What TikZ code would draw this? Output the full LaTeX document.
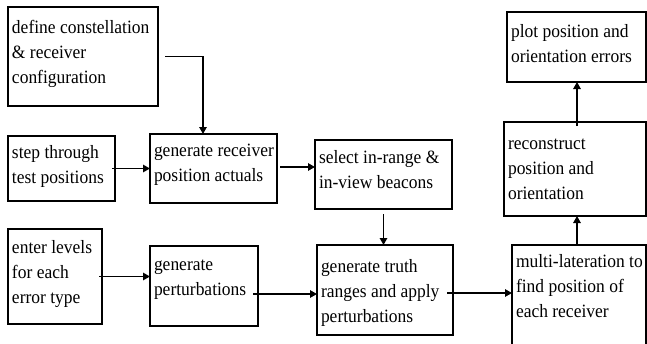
\documentclass[tikz,border=0pt]{standalone}
\usepackage{fontspec}
\setmainfont{Liberation Serif}[FakeStretch=0.93]
\usetikzlibrary{arrows.meta}
\tikzset{
  boxst/.style={draw, line width=1.8pt, anchor=north west, inner sep=0pt, outer sep=0pt},
  conn/.style={line width=1.35pt, -{Triangle[length=7pt,width=7.5pt]}},
}
% name, x, y, width, height, first baseline, text
\newcommand{\mkbox}[7]{%
  \node[boxst] (#1) at (#2,#3) {\parbox[c][#5pt][t]{#4pt}{\leftskip=4pt\rule{0pt}{#6pt}#7\par}};}
\begin{document}
\begin{tikzpicture}[x=1pt,y=-1pt,font=\rmfamily\fontsize{18.8}{25}\selectfont]
\useasboundingbox (0,0) rectangle (647,343);
\clip (0,0) rectangle (647,343);
\mkbox{b1}{8}{7}{150}{99}{26}{\mbox{define constellation}\\\mbox{\& receiver}\\\mbox{configuration}}
\mkbox{b2}{8}{136}{107}{65}{22}{\mbox{step through}\\\mbox{test positions}}
\mkbox{b3}{150}{134}{127}{69}{22}{\mbox{generate receiver}\\\mbox{position actuals}}
\mkbox{b4}{315}{140}{137}{69}{23}{\mbox{select in-range \&}\\\mbox{in-view beacons}}
\mkbox{b5}{8}{229}{94}{95}{24}{\mbox{enter levels}\\\mbox{for each}\\\mbox{error type}}
\mkbox{b6}{150}{246}{108}{80}{24}{\mbox{generate}\\\mbox{perturbations}}
\mkbox{b7}{317}{245}{136}{90}{27}{\mbox{generate truth}\\\mbox{ranges and apply}\\\mbox{perturbations}}
\mkbox{b8}{512}{245}{134}{110}{22}{\mbox{multi-lateration to}\\\mbox{find position of}\\\mbox{each receiver}}
\mkbox{b9}{504}{122}{142}{94}{27}{\mbox{reconstruct}\\\mbox{position and}\\\mbox{orientation}}
\mkbox{b10}{507}{12}{139}{70}{25}{\mbox{plot position and}\\\mbox{orientation errors}}

\coordinate (p1) at ([xshift=7pt]b1.east);
\coordinate (q1) at ([xshift=-10.5pt]b3.north);
\draw[conn] (p1) -| (q1);
\coordinate (p2) at ([xshift=-3pt]b2.east);
\draw[conn] (p2) -- (p2 -| b3.west);
\coordinate (p3) at ([xshift=3pt,yshift=1.5pt]b3.east);
\draw[conn] (p3) -- (p3 -| b4.west);
\coordinate (p4) at ([yshift=-5pt]b4.south);
\draw[conn] (p4) -- (p4 |- b7.north);
\coordinate (p5) at ([xshift=-3pt]b5.east);
\draw[conn] (p5) -- (p5 -| b6.west);
\coordinate (p6) at ([xshift=-5pt,yshift=-8pt]b6.east);
\draw[conn] (p6) -- (p6 -| b7.west);
\coordinate (p7) at ([xshift=-6pt,yshift=-3pt]b7.east);
\draw[conn] (p7) -- (p7 -| b8.west);
\coordinate (p8) at ([xshift=-2pt]b8.north);
\draw[conn] (p8) -- (p8 |- b9.south);
\coordinate (p9) at ([xshift=2pt,yshift=-4pt]b9.north);
\draw[conn] (p9) -- (p9 |- b10.south);
\end{tikzpicture}
\end{document}
